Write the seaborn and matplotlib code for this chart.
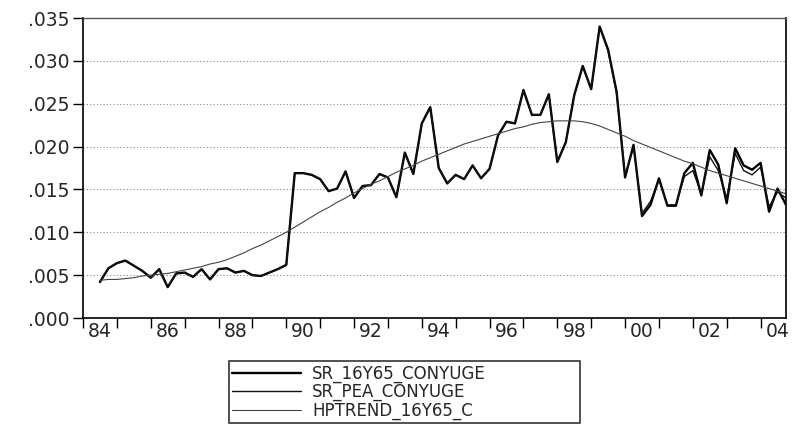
import numpy as np
import pandas as pd

import matplotlib
matplotlib.use("Agg")
import matplotlib.pyplot as plt
import seaborn as sns
from matplotlib.ticker import FixedLocator, FuncFormatter

# quarterly observations, 1984Q3 - 2004Q4
first_obs = "1984Q3"
last_obs = "2004Q4"

sr_16y65_conyuge = [
    .0042, .0058, .0064, .0067, .0061, .0055, .0047, .0057,
    .0036, .0052, .0053, .0048, .0057, .0045, .0057, .0058,
    .0053, .0055, .0050, .0049, .0053, .0057, .0062, .0169,
    .0169, .0167, .0162, .0148, .0151, .0171, .0140, .0154,
    .0155, .0168, .0164, .0141, .0193, .0168, .0227, .0246,
    .0175, .0157, .0167, .0162, .0178, .0163, .0174, .0213,
    .0229, .0227, .0266, .0237, .0237, .0261, .0182, .0205,
    .0260, .0294, .0267, .0340, .0313, .0264, .0164, .0202,
    .0119, .0132, .0163, .0131, .0131, .0169, .0181, .0143,
    .0196, .0179, .0134, .0198, .0178, .0173, .0181, .0124,
    .0151, .0132,
]

sr_pea_conyuge = [
    .0042, .0058, .0064, .0067, .0061, .0055, .0047, .0057,
    .0036, .0052, .0053, .0048, .0057, .0045, .0057, .0058,
    .0053, .0055, .0050, .0049, .0053, .0057, .0062, .0169,
    .0169, .0167, .0162, .0148, .0151, .0171, .0140, .0154,
    .0155, .0168, .0164, .0141, .0193, .0168, .0227, .0246,
    .0175, .0157, .0167, .0162, .0178, .0163, .0174, .0213,
    .0229, .0227, .0266, .0237, .0237, .0261, .0182, .0205,
    .0260, .0294, .0267, .0340, .0311, .0262, .0166, .0200,
    .0122, .0136, .0161, .0132, .0132, .0165, .0172, .0145,
    .0188, .0172, .0140, .0192, .0172, .0167, .0176, .0130,
    .0147, .0140,
]

hptrend_16y65_c = [
    .0044, .0045, .0045, .0046, .0047, .0049, .0050, .0051,
    .0052, .0054, .0056, .0058, .0060, .0063, .0065, .0068,
    .0072, .0076, .0081, .0085, .0090, .0095, .0100, .0106,
    .0112, .0118, .0124, .0129, .0135, .0140, .0146, .0151,
    .0156, .0160, .0165, .0170, .0174, .0178, .0183, .0187,
    .0191, .0195, .0199, .0203, .0206, .0209, .0212, .0215,
    .0218, .0221, .0223, .0226, .0228, .0229, .0230, .0230,
    .0230, .0229, .0227, .0224, .0220, .0216, .0212, .0207,
    .0203, .0199, .0195, .0191, .0187, .0183, .0180, .0176,
    .0172, .0169, .0166, .0163, .0160, .0157, .0154, .0151,
    .0148, .0145,
]

series_names = ["SR_16Y65_CONYUGE", "SR_PEA_CONYUGE", "HPTREND_16Y65_C"]
y_ticks = [0.000, 0.005, 0.010, 0.015, 0.020, 0.025, 0.030, 0.035]

periods = pd.period_range(first_obs, last_obs, freq="Q")
df = pd.DataFrame({
    "t": periods.year + (periods.quarter - 1) / 4,
    series_names[0]: sr_16y65_conyuge,
    series_names[1]: sr_pea_conyuge,
    series_names[2]: hptrend_16y65_c,
})

sns.set_style("white")
plt.rcParams["font.family"] = ["DejaVu Sans"]

fig = plt.figure(figsize=(7.93, 4.29), dpi=100)
ax = fig.add_axes([83 / 793, 1 - 318 / 429, (786 - 83) / 793, 300 / 429])

styles = [dict(lw=1.7, color="black"), dict(lw=1.0, color="#111111"), dict(lw=0.8, color="#444444")]
for name, st in zip(series_names, styles):
    sns.lineplot(data=df, x="t", y=name, ax=ax, label=name, **st)

ax.set_xlim(1984, 2004.75)
ax.set_ylim(0, 0.035)
ax.set_xlabel("")
ax.set_ylabel("")

# y axis: EViews-like ".035" labels
ax.set_yticks(y_ticks)
ax.yaxis.set_major_formatter(FuncFormatter(lambda v, p: f"{v:.3f}".lstrip("0")))
ax.yaxis.grid(True, linestyle=(0, (1, 2)), color="#888888", linewidth=0.8)
ax.xaxis.grid(False)

# x axis: ticks at each year, labels centred on even years
years = np.arange(1984, 2005)
ax.xaxis.set_major_locator(FixedLocator(years))
ax.xaxis.set_major_formatter(FuncFormatter(lambda v, p: ""))
lab_years = np.arange(1984, 2005, 2)
ax.xaxis.set_minor_locator(FixedLocator(lab_years + 0.5))
ax.xaxis.set_minor_formatter(FuncFormatter(lambda v, p: f"{int(v) % 100:02d}"))
ax.tick_params(axis="x", which="major", direction="out", length=7, width=1.0, color="black")
ax.tick_params(axis="x", which="minor", length=0, pad=3, labelsize=13.5)
ax.tick_params(axis="y", which="major", direction="out", length=7, width=1.0, color="black",
               pad=3, labelsize=13.5, left=True)
ax.tick_params(axis="x", bottom=True)

for side, sp in ax.spines.items():
    sp.set_visible(True)
    sp.set_color("black")
    sp.set_linewidth(1.2)
ax.spines["top"].set_color("#555555")
ax.spines["top"].set_linewidth(1.0)

handles, labels = ax.get_legend_handles_labels()
ax.legend_.remove()
leg = fig.legend(
    handles, labels,
    loc="upper left",
    bbox_to_anchor=(229 / 793, 1 - 427 / 429, (580 - 229) / 793, 66 / 429),
    mode="expand",
    ncol=1,
    fontsize=12,
    frameon=True,
    fancybox=False,
    edgecolor="black",
    handlelength=4.1,
    handletextpad=0.7,
    labelspacing=0.02,
    borderpad=0.2,
    borderaxespad=0,
)
leg.get_frame().set_linewidth(1.2)

fig.savefig("out.png", dpi=100)
